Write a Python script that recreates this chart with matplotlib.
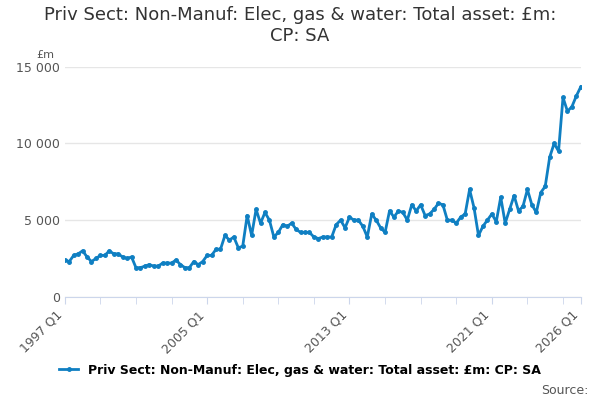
import matplotlib.pyplot as plt

values = [
    2400, 2300, 2700, 2800, 3000, 2600, 2300, 2500, 2700, 2700, 3000, 2800,
    2800, 2600, 2500, 2600, 1900, 1900, 2000, 2100, 2000, 2000, 2200, 2200,
    2200, 2400, 2100, 1900, 1900, 2300, 2100, 2300, 2700, 2700, 3100, 3100,
    4000, 3700, 3900, 3200, 3300, 5300, 4000, 5700, 4800, 5500, 5000, 3900,
    4200, 4700, 4600, 4800, 4400, 4200, 4200, 4200, 3900, 3800, 3900, 3900,
    3900, 4700, 5000, 4500, 5200, 5000, 5000, 4600, 3900, 5400, 5000, 4500,
    4200, 5600, 5200, 5600, 5500, 5000, 6000, 5600, 6000, 5300, 5400, 5700,
    6100, 6000, 5000, 5000, 4800, 5200, 5400, 7000, 5800, 4000, 4600, 5000,
    5400, 4900, 6500, 4800, 5700, 6600, 5600, 5900, 7000, 6000, 5500, 6800,
    7200, 9100, 10000, 9500, 13000, 12100, 12400, 13100, 13700,
]
tick_labels = ["1997 Q1", "2005 Q1", "2013 Q1", "2021 Q1", "2026 Q1"]
tick_pos = [0, 32, 64, 96, 116]
title = "Priv Sect: Non-Manuf: Elec, gas & water: Total asset: £m:\nCP: SA"
label = "Priv Sect: Non-Manuf: Elec, gas & water: Total asset: £m: CP: SA"

color = "#0f7fc2"
fig = plt.figure(figsize=(6, 4), dpi=100)
ax = fig.add_axes([0.108, 0.258, 0.86, 0.575])
x = list(range(len(values)))
ax.plot(x, values, color=color, lw=2, marker="o", ms=2.5, label=label)
ax.set_xlim(0, 116)
ax.set_ylim(0, 15000)
ax.set_yticks([0, 5000, 10000, 15000])
ax.set_yticklabels(["0", "5 000", "10 000", "15 000"], color="#555555", fontsize=9)
ax.set_xticks(tick_pos)
ax.set_xticklabels(tick_labels, rotation=45, ha="right", color="#555555", fontsize=9)
ax.set_xticks(range(0, 117, 8), minor=True)
ax.tick_params(axis="y", length=0)
ax.tick_params(axis="x", which="both", length=5, color="#ccd6eb")
ax.grid(axis="y", color="#e6e6e6", lw=1)
for s in ["top", "right", "left"]:
    ax.spines[s].set_visible(False)
ax.spines["bottom"].set_color("#ccd6eb")
ax.set_axisbelow(True)
ax.text(-0.02, 1.04, "£m", transform=ax.transAxes, ha="right", fontsize=8, color="#555555")
fig.suptitle(title, fontsize=13, color="#333333", y=0.985)
fig.legend(loc="lower center", bbox_to_anchor=(0.5, 0.03), frameon=False, fontsize=9,
           handlelength=1.5, prop={"weight": "bold", "size": 9})
fig.text(0.98, 0.015, "Source:", ha="right", fontsize=9, color="#555555")
fig.savefig("out.png")
